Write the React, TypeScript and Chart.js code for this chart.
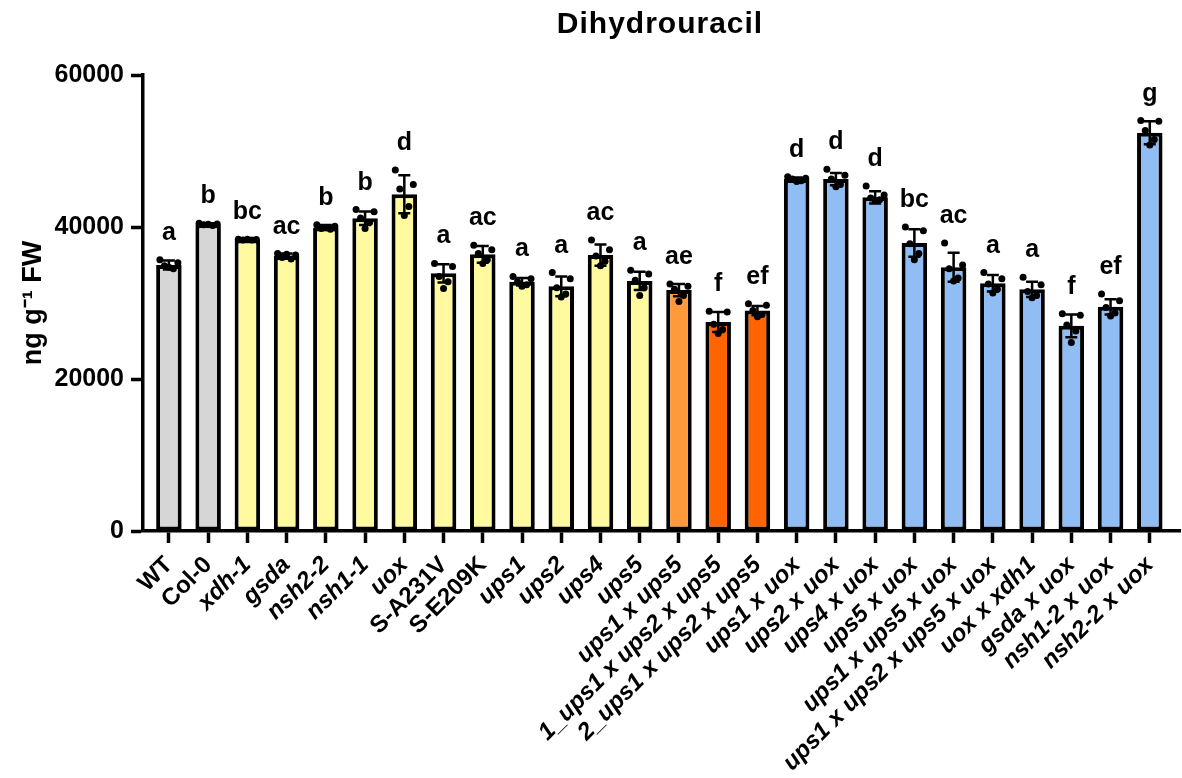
import React, { useEffect, useRef } from "react";
import { Chart, registerables } from "chart.js";

Chart.register(...registerables);

const categories = [
  "WT", "Col-0", "xdh-1", "gsda", "nsh2-2", "nsh1-1", "uox", "S-A231V", "S-E209K",
  "ups1", "ups2", "ups4", "ups5", "ups1 x ups5", "1_ups1 x ups2 x ups5", "2_ups1 x ups2 x ups5",
  "ups1 x uox", "ups2 x uox", "ups4 x uox", "ups5 x uox", "ups1 x ups5 x uox",
  "ups1 x ups2 x ups5 x uox", "uox x xdh1", "gsda x uox", "nsh1-2 x uox", "nsh2-2 x uox",
];

const nonItalic = ["WT", "Col-0", "S-A231V", "S-E209K"];

const means = [
  35000, 40350, 38350, 36200, 39950, 41150, 44300, 33900, 36400,
  32800, 32200, 36300, 32900, 31700, 27500, 29000,
  46300, 46300, 43900, 37900, 34700, 32600, 31800, 27000, 29500, 52400,
];

const sds = [
  600, 150, 80, 300, 300, 900, 2500, 1200, 1100,
  500, 1300, 1400, 1200, 800, 1300, 600,
  200, 800, 800, 1800, 1900, 1100, 1000, 1500, 1000, 1500,
];

const replicates = [
  [35700, 35300, 34900, 34500, 34700],
  [40500, 40400, 40300, 40200, 40350],
  [38400, 38350, 38300, 38300, 38400],
  [36500, 36300, 36000, 35800, 36400],
  [40300, 40100, 39800, 39700, 39900],
  [42300, 42000, 41200, 40600, 39800],
  [47500, 45600, 45000, 42700, 41500],
  [35200, 34800, 33500, 32800, 31900],
  [37600, 37000, 36500, 35700, 35200],
  [33500, 33200, 32800, 32400, 32200],
  [34000, 33200, 32000, 31200, 30800],
  [38300, 37000, 36200, 35500, 34900],
  [34300, 33800, 33000, 32000, 31000],
  [32500, 32200, 31800, 31000, 30200],
  [28900, 28800, 27200, 26500, 26000],
  [29900, 29700, 29000, 28500, 28200],
  [46600, 46400, 46300, 46100, 46000],
  [47600, 46800, 46300, 45600, 45300],
  [45400, 44200, 43800, 43600, 43500],
  [40000, 39500, 37800, 36500, 35700],
  [37900, 35000, 34500, 33300, 32900],
  [34000, 33200, 32500, 31800, 31300],
  [33400, 32400, 31500, 31000, 30700],
  [28600, 28400, 27100, 26300, 24800],
  [31200, 30300, 29400, 28700, 28300],
  [54000, 53900, 52700, 51500, 50800],
];

const letters = [
  "a", "b", "bc", "ac", "b", "b", "d", "a", "ac",
  "a", "a", "ac", "a", "ae", "f", "ef",
  "d", "d", "d", "bc", "ac", "a", "a", "f", "ef", "g",
];

const GRAY = "#d6d6d6";
const YELLOW = "#fffaa0";
const ORANGE = "#ff9a3c";
const RED_ORANGE = "#ff6400";
const BLUE = "#8fbdf4";
const colors = [
  GRAY, GRAY,
  YELLOW, YELLOW, YELLOW, YELLOW, YELLOW, YELLOW, YELLOW, YELLOW, YELLOW, YELLOW, YELLOW,
  ORANGE, RED_ORANGE, RED_ORANGE,
  BLUE, BLUE, BLUE, BLUE, BLUE, BLUE, BLUE, BLUE, BLUE, BLUE,
];

const yTicks = [0, 20000, 40000, 60000];

const FONT = "'Liberation Sans', Arial, Helvetica, sans-serif";

const overlayPlugin = {
  id: "overlay",
  afterDatasetsDraw(chart: any) {
    const { ctx, scales } = chart;
    const xs = scales.x;
    const ys = scales.y;
    const jitter = [-9, 9, -4.5, 4.5, 0];
    ctx.save();
    means.forEach((m, i) => {
      const x = xs.getPixelForValue(i);
      const top = ys.getPixelForValue(m + sds[i]);
      const bot = ys.getPixelForValue(m - sds[i]);
      ctx.strokeStyle = "#000";
      ctx.lineWidth = 2.5;
      ctx.beginPath();
      ctx.moveTo(x, top);
      ctx.lineTo(x, bot);
      ctx.moveTo(x - 6, top);
      ctx.lineTo(x + 6, top);
      ctx.moveTo(x - 6, bot);
      ctx.lineTo(x + 6, bot);
      ctx.stroke();
      ctx.fillStyle = "#000";
      replicates[i].forEach((v, k) => {
        ctx.beginPath();
        ctx.arc(x + jitter[k % jitter.length], ys.getPixelForValue(v), 3.5, 0, Math.PI * 2);
        ctx.fill();
      });
      const maxVal = Math.max(m + sds[i], ...replicates[i]);
      const yTop = ys.getPixelForValue(maxVal);
      ctx.font = `bold 25px ${FONT}`;
      ctx.textAlign = "center";
      ctx.textBaseline = "alphabetic";
      ctx.fillText(letters[i], x, yTop - 20);
    });
    ctx.restore();
  },
  afterDraw(chart: any) {
    const { ctx } = chart;
    ctx.save();
    ctx.fillStyle = "#000";
    ctx.font = `bold 30px ${FONT}`;
    try {
      (ctx as any).letterSpacing = "1px";
    } catch (e) {}
    ctx.textAlign = "center";
    ctx.textBaseline = "alphabetic";
    ctx.fillText("Dihydrouracil", 660, 33);
    ctx.restore();
  },
};

export default function App() {
  const ref = useRef<HTMLCanvasElement | null>(null);
  useEffect(() => {
    if (!ref.current) return;
    const chart = new Chart(ref.current, {
      type: "bar",
      data: {
        datasets: [
          {
            data: means.map((v, i) => ({ x: i, y: v })),
            backgroundColor: colors,
            borderColor: "#000",
            borderWidth: 4,
            borderSkipped: false,
            barPercentage: 0.65,
            categoryPercentage: 1,
          },
        ],
      },
      options: {
        animation: false,
        responsive: false,
        layout: { padding: { top: 75, right: 2, left: 0, bottom: 0 } },
        plugins: {
          legend: { display: false },
          tooltip: { enabled: false },
          title: { display: false },
        },
        scales: {
          x: {
            type: "linear",
            min: -0.66,
            max: 25.77,
            offset: false,
            afterFit: (s: any) => {
              s.height = 247;
            },
            border: { display: true, color: "#000", width: 3.5 },
            grid: {
              display: true,
              offset: false,
              drawOnChartArea: false,
              drawTicks: true,
              tickLength: 12,
              tickWidth: 3.5,
              tickColor: "#000",
              color: "#000",
            },
            ticks: {
              stepSize: 1,
              autoSkip: false,
              includeBounds: false,
              maxTicksLimit: 100,
              minRotation: 45,
              maxRotation: 45,
              padding: 8,
              color: "#000",
              callback: (v: any) => categories[Math.round(Number(v))] ?? "",
              font: (c: any) => {
                const idx = c.tick ? Math.round(c.tick.value) : c.index;
                const lab = categories[idx] ?? "";
                return {
                  family: FONT,
                  size: 24,
                  weight: "bold",
                  style: nonItalic.includes(lab) ? "normal" : "italic",
                };
              },
            },
          },
          y: {
            min: 0,
            max: 60000,
            afterFit: (s: any) => {
              s.width = 143;
            },
            afterBuildTicks: (s: any) => {
              s.ticks = yTicks.map((v) => ({ value: v }));
            },
            border: { display: true, color: "#000", width: 3.5 },
            grid: {
              display: true,
              drawOnChartArea: false,
              drawTicks: true,
              tickLength: 12,
              tickWidth: 3.5,
              tickColor: "#000",
              color: "#000",
            },
            ticks: {
              color: "#000",
              padding: 7,
              font: { family: FONT, size: 25, weight: "bold" },
              callback: (v: any) => String(v),
            },
            title: {
              display: true,
              text: "ng g⁻¹ FW",
              color: "#000",
              font: { family: FONT, size: 27, weight: "bold" },
              padding: { top: 17, bottom: 0 },
            },
          },
        },
      },
      plugins: [overlayPlugin],
    });
    return () => chart.destroy();
  }, []);
  return (
    <div style={{ position: "absolute", left: 0, top: 0, width: 1182, height: 778, background: "#fff" }}>
      <canvas ref={ref} width={1182} height={778} style={{ width: 1182, height: 778, display: "block" }} />
    </div>
  );
}
